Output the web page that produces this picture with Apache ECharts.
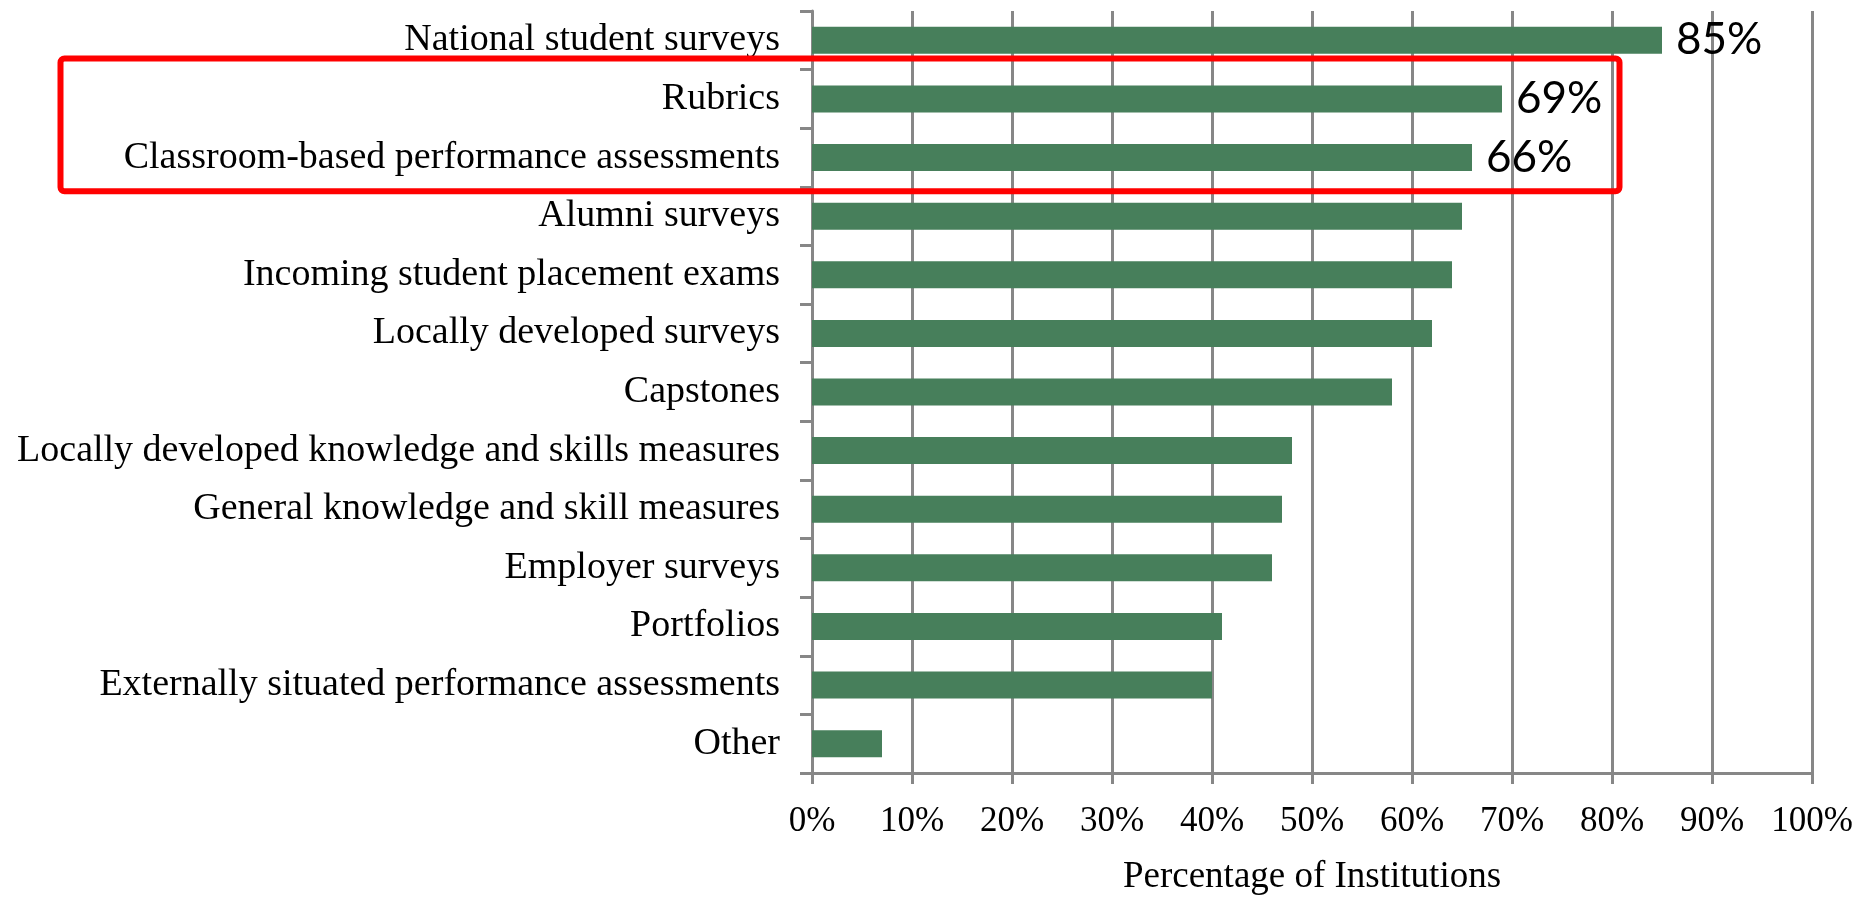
<!DOCTYPE html>
<html>
<head>
<meta charset="utf-8">
<script src="https://cdn.jsdelivr.net/npm/echarts@6/dist/echarts.min.js"></script>
<style>
  html, body { margin: 0; padding: 0; background: #ffffff; }
  #chart { width: 1870px; height: 901px; }
</style>
</head>
<body>
<div id="chart"></div>
<script>
const categories = [
  'National student surveys',
  'Rubrics',
  'Classroom-based performance assessments',
  'Alumni surveys',
  'Incoming student placement exams',
  'Locally developed surveys',
  'Capstones',
  'Locally developed knowledge and skills measures',
  'General knowledge and skill measures',
  'Employer surveys',
  'Portfolios',
  'Externally situated performance assessments',
  'Other'
];
const percentages = [85, 69, 66, 65, 64, 62, 58, 48, 47, 46, 41, 40, 7];
const showValueLabel = [true, true, true, false, false, false, false, false, false, false, false, false, false];
const xTickValues = [0, 10, 20, 30, 40, 50, 60, 70, 80, 90, 100];
const xAxisTitle = 'Percentage of Institutions';
const highlightedCategories = ['Rubrics', 'Classroom-based performance assessments'];

const GRAY = '#878787';
const SERIF = '"Liberation Serif", "DejaVu Serif", serif';

const chart = echarts.init(document.getElementById('chart'), null, { renderer: 'canvas' });

const option = {
  backgroundColor: '#ffffff',
  animation: false,
  grid: { left: 812, right: 58, top: 11, bottom: 117, containLabel: false },
  xAxis: {
    type: 'value',
    min: xTickValues[0],
    max: xTickValues[xTickValues.length - 1],
    interval: xTickValues[1] - xTickValues[0],
    axisLine: { show: true, lineStyle: { color: GRAY, width: 3 } },
    axisTick: { show: true, length: 11, lineStyle: { color: GRAY, width: 3 } },
    splitLine: { show: true, lineStyle: { color: GRAY, width: 3 } },
    axisLabel: {
      formatter: '{value}%',
      color: '#000',
      fontFamily: SERIF,
      fontSize: 35,
      margin: 31
    },
    name: xAxisTitle,
    nameLocation: 'middle',
    nameGap: 86,
    nameTextStyle: { color: '#000', fontFamily: SERIF, fontSize: 37 }
  },
  yAxis: {
    type: 'category',
    data: categories,
    inverse: true,
    axisLine: { show: true, lineStyle: { color: GRAY, width: 3 } },
    axisTick: { show: true, length: 12, lineStyle: { color: GRAY, width: 3 } },
    splitLine: { show: false },
    axisLabel: {
      color: '#000',
      fontFamily: SERIF,
      fontSize: 38,
      margin: 32
    }
  },
  series: [{
    type: 'bar',
    barWidth: 27,
    itemStyle: { color: '#477f5b' },
    data: percentages.map((v, i) => ({
      value: v,
      label: {
        show: showValueLabel[i],
        position: 'right',
        distance: 14,
        formatter: '{c}%',
        color: '#000',
        fontFamily: 'Lato, "Open Sans", sans-serif',
        fontSize: 44
      }
    }))
  }]
};

chart.setOption(option);

// Red highlight box around the highlighted categories, anchored to the axes
const firstIdx = categories.indexOf(highlightedCategories[0]);
const lastIdx = categories.indexOf(highlightedCategories[highlightedCategories.length - 1]);
const yFirst = chart.convertToPixel({ yAxisIndex: 0 }, categories[firstIdx]);
const yLast = chart.convertToPixel({ yAxisIndex: 0 }, categories[lastIdx]);
const band = yLast - yFirst;
const topY = yFirst - band * 0.69;
const bottomY = yLast + band * 0.575;
const rightX = chart.convertToPixel({ xAxisIndex: 0 }, 80.75);
const leftX = 60.5;

chart.setOption({
  graphic: [{
    type: 'rect',
    z: 100,
    shape: { x: leftX, y: topY, width: rightX - leftX, height: bottomY - topY, r: 4 },
    style: { fill: 'none', stroke: '#ff0000', lineWidth: 6 }
  }]
});
</script>
</body>
</html>
